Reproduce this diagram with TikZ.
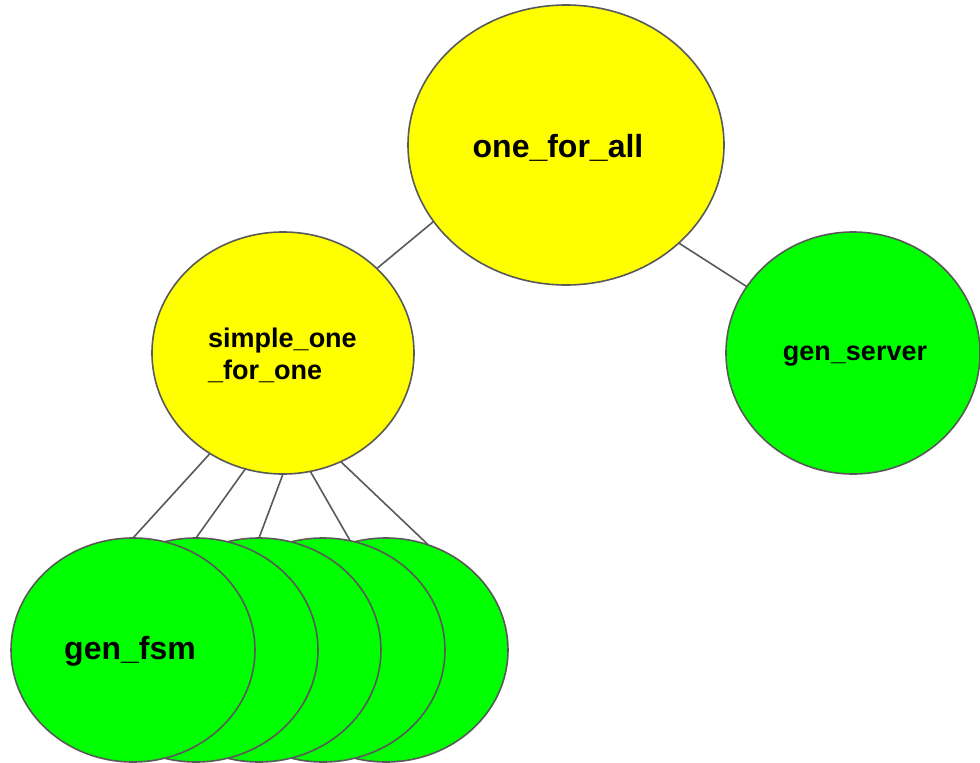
\documentclass[tikz,border=0pt]{standalone}
\usepackage{fontspec}
\setmainfont{Liberation Sans}
\usetikzlibrary{shapes.geometric}
\definecolor{bubbleyellow}{HTML}{FFFF00}
\definecolor{bubblegreen}{HTML}{00FF00}
\definecolor{edgegray}{HTML}{595959}
\tikzset{
  bubble/.style={ellipse, draw=edgegray, line width=1.6pt, inner sep=0pt, outer sep=0pt},
  sup/.style={bubble, fill=bubbleyellow},
  worker/.style={bubble, fill=bubblegreen},
  link/.style={draw=edgegray, line width=1.6pt},
  bigtext/.style={font=\bfseries\fontsize{32}{37}\selectfont, inner sep=0pt},
  smalltext/.style={font=\bfseries\fontsize{27}{32}\selectfont, inner sep=0pt}
}
\begin{document}
\begin{tikzpicture}[x=1pt, y=-1pt]
\useasboundingbox (0,0) rectangle (980,763);

% supervisors
\node[sup, minimum width=316pt, minimum height=280pt] (ofa) at (566,145) {};
\node[sup, minimum width=262pt, minimum height=242pt] (sofo) at (283,353) {};

% gen_server worker
\node[worker, minimum width=254pt, minimum height=242pt] (gs) at (853,353) {};

% stack of gen_fsm workers, back to front
\node[worker, minimum width=244pt, minimum height=224pt] (f5) at (386,650) {};
\node[worker, minimum width=244pt, minimum height=224pt] (f4) at (323,650) {};
\node[worker, minimum width=244pt, minimum height=224pt] (f3) at (259,650) {};
\node[worker, minimum width=244pt, minimum height=224pt] (f2) at (196,650) {};
\node[worker, minimum width=244pt, minimum height=224pt] (f1) at (133,650) {};

% supervision links
\draw[link] (ofa.210) -- (sofo.42);
\draw[link] (ofa.319) -- (gs.148);
\draw[link] (sofo.234) -- (f1.north);
\draw[link] (sofo.252) -- (f2.north);
\draw[link] (sofo.270) -- (f3.north);
\draw[link] (sofo.283) -- (f4.76);
\draw[link] (sofo.298) -- (f5.68);

% labels
\node[bigtext] (tofa) at (558,148) {one\_for\_all};
\node[smalltext, align=left, anchor=west] (tsofo) at (208,355) {simple\_one\\\_for\_one};
\node[smalltext] (tgs) at (855,356) {gen\_server};
\node[bigtext] (tfsm) at (130,651) {gen\_fsm};
\end{tikzpicture}
\end{document}
